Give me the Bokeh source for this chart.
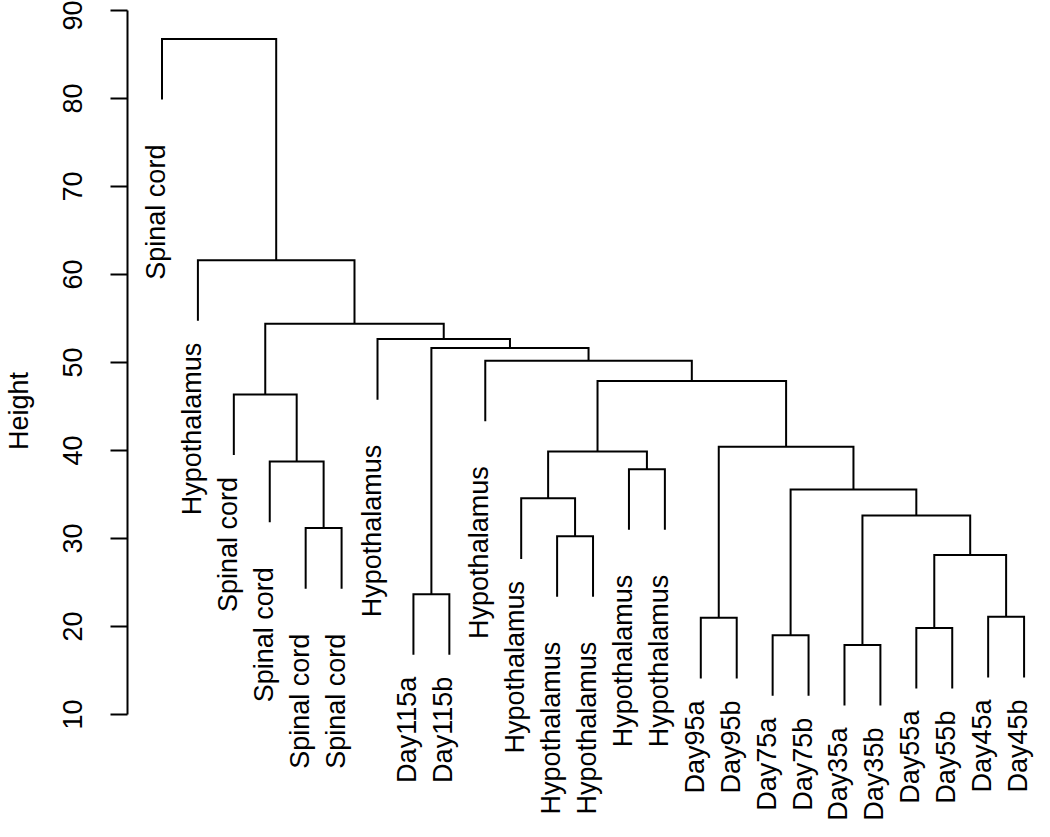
from math import pi
from bokeh.plotting import figure
from bokeh.models import Range1d, FixedTicker, ColumnDataSource
from bokeh.core.properties import value
from bokeh.embed import file_html
from bokeh.resources import INLINE

# ---- data ----
leaf_labels = [
    "Spinal cord", "Hypothalamus", "Spinal cord", "Spinal cord", "Spinal cord",
    "Spinal cord", "Hypothalamus", "Day115a", "Day115b", "Hypothalamus",
    "Hypothalamus", "Hypothalamus", "Hypothalamus", "Hypothalamus", "Hypothalamus",
    "Day95a", "Day95b", "Day75a", "Day75b", "Day35a", "Day35b",
    "Day55a", "Day55b", "Day45a", "Day45b",
]
# R hclust-style merge table: negative = leaf (display position), positive = earlier merge
merge_left = [-5, -4, -3, -8, -12, -11, -14, 6, -16, -18, -20, -22, -24,
              12, 11, 10, 9, 8, -10, 4, -7, 3, -2, -1]
merge_right = [-6, 1, 2, -9, -13, 5, -15, 7, -17, -19, -21, -23, -25,
               13, 14, 15, 16, 17, 18, 19, 20, 21, 22, 23]
merge_height = [31.18, 38.74, 46.37, 23.67, 30.26, 34.57, 37.88, 39.90,
                20.99, 19.01, 17.90, 19.83, 21.10, 28.13, 32.60, 35.57,
                40.42, 47.90, 50.20, 51.65, 52.66, 54.41, 61.63, 86.76]
y_ticks = [10, 20, 30, 40, 50, 60, 70, 80, 90]
hang_fraction = 0.1

# ---- style ----
FONT = "Liberation Sans"
FS = "27px"
# pixel gap between a leaf end and its label
label_pad = [45, 22, 22, 45, 45, 45, 45, 22, 22, 45, 22, 45, 45, 45, 45,
             22, 22, 22, 22, 22, 22, 22, 22, 22, 22]

hang = hang_fraction * (max(merge_height) - min(merge_height))

node_x = []
xs, ys = [], []
leaf_tip = {}
for a, b, h in zip(merge_left, merge_right, merge_height):
    pts = []
    for c in (a, b):
        if c < 0:
            cx, cy = float(-c), h - hang
            leaf_tip[-c] = cy
        else:
            cx, cy = node_x[c - 1], merge_height[c - 1]
        pts.append((cx, cy))
    (x1, y1), (x2, y2) = pts
    xs.append([x1, x1, x2, x2])
    ys.append([y1, h, h, y2])
    node_x.append((x1 + x2) / 2.0)

n = len(leaf_labels)
lab_src = ColumnDataSource(dict(
    x=[float(i) for i in range(1, n + 1)],
    y=[leaf_tip[i] for i in range(1, n + 1)],
    text=leaf_labels,
    pad=label_pad,
))

W, H = 1034, 821
frame_left = 125
spacing = 36.0            # px per leaf
x0 = 0.04
py_top, py_bot = 10.0, 714.0   # pixel rows of 90 and 10
ppu = (py_bot - py_top) / (max(y_ticks) - min(y_ticks))
y_hi = max(y_ticks) + py_top / ppu
y_lo = min(y_ticks) - (H - py_bot) / ppu

p = figure(width=W, height=H, output_backend="svg", toolbar_location=None,
           x_range=Range1d(x0, x0 + (W - frame_left) / spacing),
           y_range=Range1d(y_lo, y_hi),
           x_axis_location=None, min_border_left=frame_left,
           min_border_right=0, min_border_top=0, min_border_bottom=0)
p.outline_line_color = None
p.xgrid.visible = False
p.ygrid.visible = False
p.background_fill_color = "white"
p.border_fill_color = "white"

p.multi_line(xs, ys, line_color="black", line_width=2, line_join="miter")
p.text(x="x", y="y", text="text", source=lab_src, angle=pi / 2,
       text_align="right", text_baseline="middle", y_offset="pad",
       x_offset=-6,
       text_font=value(FONT), text_font_size=FS, text_color="black")

ax = p.yaxis[0]
ax.bounds = (min(y_ticks), max(y_ticks))
ax.ticker = FixedTicker(ticks=y_ticks)
ax.minor_tick_line_color = None
ax.major_tick_in = 0
ax.major_tick_out = 17
ax.major_tick_line_width = 2
ax.axis_line_width = 2
ax.axis_line_color = "black"
ax.major_tick_line_color = "black"
ax.major_label_orientation = "vertical"
ax.major_label_text_font = FONT
ax.major_label_text_font_size = FS
ax.major_label_text_color = "black"
ax.major_label_standoff = 29
ax.axis_label = "Height"
ax.axis_label_text_font = FONT
ax.axis_label_text_font_size = FS
ax.axis_label_text_font_style = "normal"
ax.axis_label_text_color = "black"
ax.axis_label_standoff = 26

open("out.html", "w").write(file_html(p, INLINE))
